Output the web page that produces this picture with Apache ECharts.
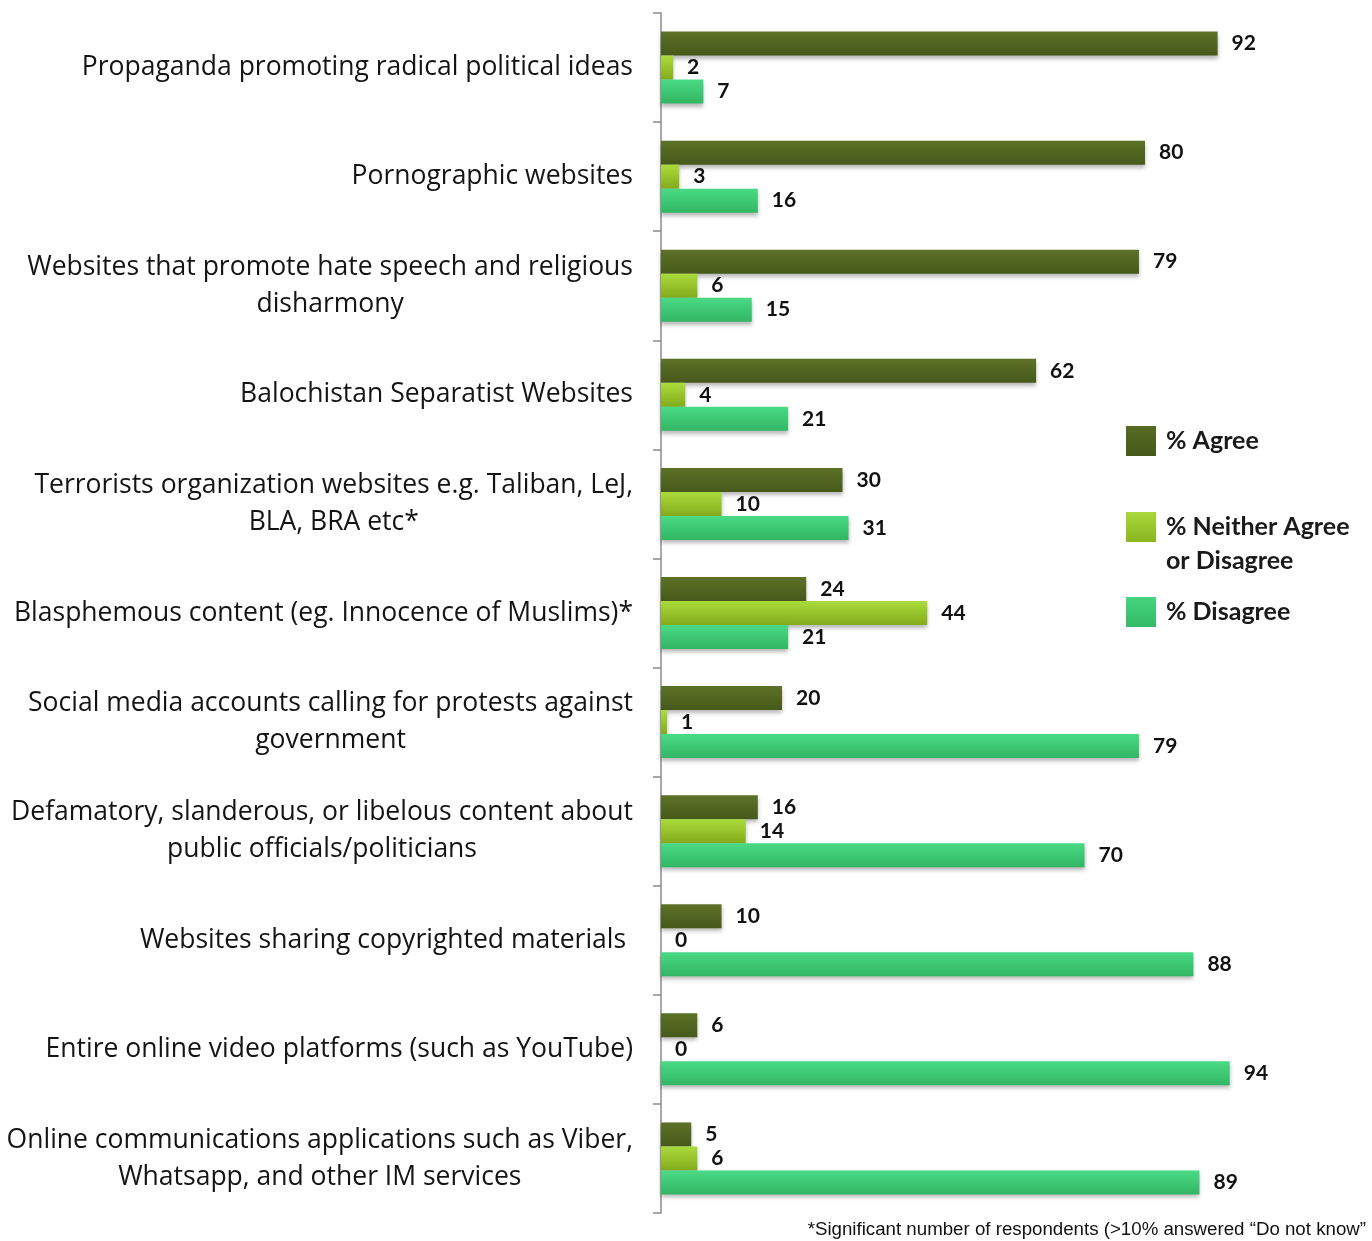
<!DOCTYPE html>
<html>
<head>
<meta charset="utf-8">
<script src="https://cdn.jsdelivr.net/npm/echarts@6/dist/echarts.min.js"></script>
<style>
  html, body { margin: 0; padding: 0; background: #ffffff; }
  #chart { width: 1372px; height: 1241px; }
</style>
</head>
<body>
<div id="chart"></div>
<script>
// Content categories (top to bottom)
const categories = [
  'Propaganda promoting radical political ideas',
  'Pornographic websites',
  'Websites that promote hate speech and religious\ndisharmony',
  'Balochistan Separatist Websites',
  'Terrorists organization websites e.g. Taliban, LeJ,\nBLA, BRA etc*',
  'Blasphemous content (eg. Innocence of Muslims)*',
  'Social media accounts calling for protests against\ngovernment',
  'Defamatory, slanderous, or libelous content about\npublic officials/politicians',
  'Websites sharing copyrighted materials ',
  'Entire online video platforms (such as YouTube)',
  'Online communications applications such as Viber,\nWhatsapp, and other IM services'
];

// Survey responses, percent
const agree    = [92, 80, 79, 62, 30, 24, 20, 16, 10, 6, 5];
const neither  = [2, 3, 6, 4, 10, 44, 1, 14, 0, 0, 6];
const disagree = [7, 16, 15, 21, 31, 21, 79, 70, 88, 94, 89];

const seriesNames = ['% Agree', '% Neither Agree or Disagree', '% Disagree'];
const footnote = '*Significant number of respondents (>10% answered \u201cDo not know\u201d';

function grad(top, bottom) {
  return new echarts.graphic.LinearGradient(0, 0, 0, 1, [
    { offset: 0, color: top },
    { offset: 1, color: bottom }
  ]);
}

const palette = [
  grad('#5d7127', '#46591a'),
  grad('#aadc3c', '#84ab1b'),
  grad('#4ada85', '#32b663')
];
const swatch = [
  grad('#576b23', '#46591a'),
  grad('#a8d83a', '#8ab620'),
  grad('#46d47f', '#34bb67')
];

const labelFont = '"Open Sans", Lato, sans-serif';
const valueFont = 'Lato, "Open Sans", sans-serif';

function makeSeries(name, values, idx) {
  return {
    name: name,
    type: 'bar',
    data: values,
    barWidth: 24,
    barGap: '0%',
    itemStyle: {
      color: palette[idx],
      shadowColor: 'rgba(0,0,0,0.28)',
      shadowBlur: 4,
      shadowOffsetY: 3
    },
    label: {
      show: true,
      position: 'right',
      distance: 14,
      color: '#111111',
      fontFamily: valueFont,
      fontWeight: 'bold',
      fontSize: 21
    }
  };
}

// One legend block per series so each can sit at its own height
function legendBlock(name, idx, top, formatter) {
  return {
    orient: 'vertical',
    left: 1126,
    top: top,
    padding: 0,
    itemWidth: 30,
    itemHeight: 30,
    selectedMode: false,
    icon: 'rect',
    formatter: formatter || '{name}',
    data: [{ name: name, itemStyle: { color: swatch[idx] } }],
    textStyle: {
      color: '#1a1a1a',
      fontFamily: valueFont,
      fontWeight: 'bold',
      fontSize: 25,
      lineHeight: 34,
      padding: [0, 0, 0, 5]
    }
  };
}

const chart = echarts.init(document.getElementById('chart'), null, { renderer: 'canvas' });

chart.setOption({
  backgroundColor: '#ffffff',
  animation: false,
  grid: {
    left: 661,
    top: 13,
    width: 605,
    height: 1200,
    containLabel: false
  },
  xAxis: {
    type: 'value',
    min: 0,
    max: 100,
    show: false
  },
  yAxis: {
    type: 'category',
    data: categories,
    inverse: true,
    axisLine: { show: true, lineStyle: { color: '#8c8c8c', width: 1.5 } },
    axisTick: { show: true, length: 8, lineStyle: { color: '#8c8c8c', width: 1.5 } },
    axisLabel: {
      margin: 28,
      align: 'right',
      formatter: function (v) {
        return v.split('\n').map(function (l) { return '{c|' + l + '}'; }).join('\n');
      },
      rich: {
        c: {
          align: 'center',
          fontFamily: labelFont,
          fontSize: 26.5,
          lineHeight: 37,
          color: '#141414'
        }
      }
    }
  },
  legend: [
    legendBlock(seriesNames[0], 0, 424),
    legendBlock(seriesNames[1], 1, 476, function () {
      // first line level with the swatch, second line below it
      return '\n% Neither Agree\nor Disagree';
    }),
    legendBlock(seriesNames[2], 2, 595)
  ],
  title: {
    text: footnote,
    right: 6,
    top: 1220,
    padding: 0,
    textStyle: {
      fontFamily: '"Liberation Sans", Arial, sans-serif',
      fontWeight: 'normal',
      fontSize: 18.7,
      color: '#111111'
    }
  },
  series: [
    makeSeries(seriesNames[0], agree, 0),
    makeSeries(seriesNames[1], neither, 1),
    makeSeries(seriesNames[2], disagree, 2)
  ]
});
</script>
</body>
</html>
